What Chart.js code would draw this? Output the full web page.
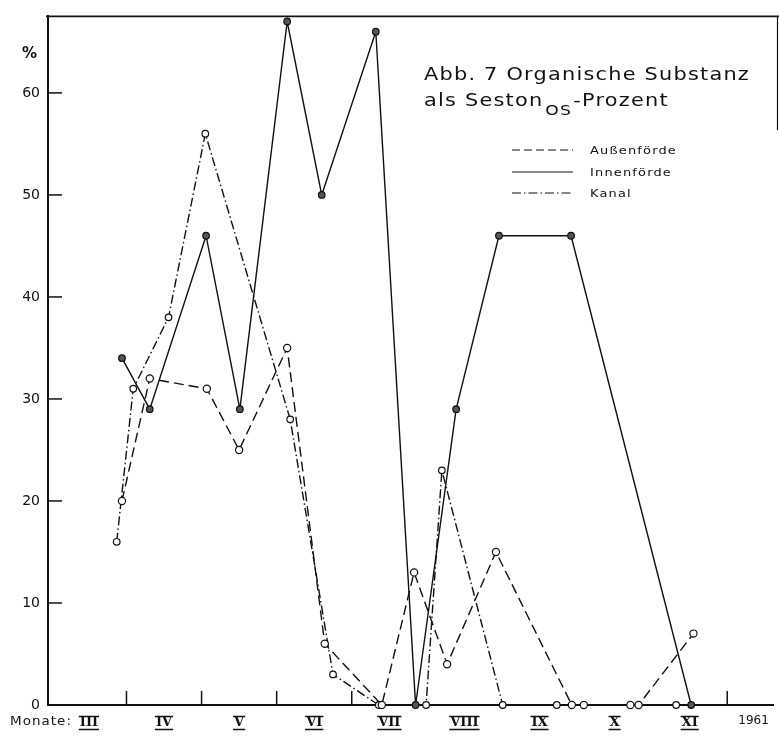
<!DOCTYPE html>
<html>
<head>
<meta charset="utf-8">
<script src="https://cdn.jsdelivr.net/npm/chart.js@4.4.0/dist/chart.umd.min.js"></script>
<style>
  html, body { margin: 0; padding: 0; background: #fff; }
  canvas { display: block; }
</style>
</head>
<body>
<canvas id="chart" width="779" height="741"></canvas>
<script>
// x = month of the year as decimal (4.0 = 1st April), y = percent
var aussenX = [3.94, 4.31, 5.07, 5.50, 6.14, 6.64, 7.40, 7.83, 8.27, 8.92, 9.93, 10.09, 10.71, 10.82, 11.55];
var aussenY = [20, 32, 31, 25, 35, 6, 0, 13, 4, 15, 0, 0, 0, 0, 7];

var innenX = [3.94, 4.31, 5.06, 5.51, 6.14, 6.60, 7.32, 7.85, 8.39, 8.96, 9.92, 11.52];
var innenY = [34, 29, 46, 29, 67, 50, 66, 0, 29, 46, 46, 0];

var kanalX = [3.87, 4.09, 4.56, 5.05, 6.18, 6.75, 7.36, 7.99, 8.20, 9.01, 9.73, 11.32];
var kanalY = [16, 31, 38, 56, 28, 3, 0, 0, 23, 0, 0, 0];

var monthLabels = ['III', 'IV', 'V', 'VI', 'VII', 'VIII', 'IX', 'X', 'XI'];
var monthPos = [3.5, 4.5, 5.5, 6.5, 7.5, 8.5, 9.5, 10.5, 11.5];
var yearLabel = '1961';
var yearPos = 12.35;
var boundaryTicks = [4, 5, 6, 7, 12];
var yTicks = [0, 10, 20, 30, 40, 50, 60];

var ink = '#111';

function pts(xs, ys) {
    return xs.map(function (x, i) { return { x: x, y: ys[i] }; });
}

// draw text stretched horizontally by factor sx, returns drawn width
function wide(c, text, x, y, sx) {
    c.letterSpacing = '1px';
    var w = c.measureText(text).width;
    c.save();
    c.translate(x, y);
    c.scale(sx, 1);
    c.fillText(text, 0, 0);
    c.restore();
    c.letterSpacing = '0px';
    return w * sx;
}
function scaleFor(c, text, width) {
    c.letterSpacing = '1px';
    var w = c.measureText(text).width;
    c.letterSpacing = '0px';
    return width / w;
}

var decor = {
    id: 'decor',
    afterDraw: function (chart) {
        var c = chart.ctx;
        var xs = chart.scales.x, ys = chart.scales.y;
        var area = chart.chartArea;
        c.save();
        c.strokeStyle = ink;
        c.fillStyle = ink;

        // frame: top line + right edge
        c.lineWidth = 1.6;
        c.beginPath();
        c.moveTo(area.left - 2, area.top);
        c.lineTo(779, area.top);
        c.stroke();
        c.lineWidth = 1.2;
        c.beginPath();
        c.moveTo(777.5, area.top);
        c.lineTo(777.5, 130);
        c.stroke();

        // inner y ticks
        c.lineWidth = 1.5;
        yTicks.forEach(function (v) {
            if (v === 0) return;
            var py = ys.getPixelForValue(v);
            c.beginPath();
            c.moveTo(area.left, py);
            c.lineTo(area.left + 14, py);
            c.stroke();
        });

        // month boundary ticks
        boundaryTicks.forEach(function (v) {
            var px = xs.getPixelForValue(v);
            c.beginPath();
            c.moveTo(px, area.bottom);
            c.lineTo(px, area.bottom - 14);
            c.stroke();
        });

        // % label
        c.font = 'bold 15px "DejaVu Sans"';
        c.textAlign = 'left';
        c.textBaseline = 'alphabetic';
        c.fillText('%', 22, 58);

        // x labels
        c.textBaseline = 'middle';
        c.textAlign = 'left';
        c.font = '13px "DejaVu Sans"';
        wide(c, 'Monate:', 10, 722, scaleFor(c, 'Monate:', 62));

        c.font = 'bold 13px "DejaVu Serif"';
        c.textAlign = 'center';
        c.lineWidth = 1.6;
        monthLabels.forEach(function (t, i) {
            var px = xs.getPixelForValue(monthPos[i]);
            c.fillText(t, px, 723);
            var w = c.measureText(t).width + 2;
            c.beginPath();
            c.moveTo(px - w / 2, 716.5);
            c.lineTo(px + w / 2, 716.5);
            c.moveTo(px - w / 2, 729.5);
            c.lineTo(px + w / 2, 729.5);
            c.stroke();
        });
        c.font = '12px "DejaVu Sans"';
        c.fillText(yearLabel, xs.getPixelForValue(yearPos), 721);

        // title
        c.textAlign = 'left';
        c.textBaseline = 'alphabetic';
        c.font = '17px "DejaVu Sans"';
        var s = scaleFor(c, 'Abb. 7 Organische Substanz', 326);
        wide(c, 'Abb. 7 Organische Substanz', 424, 80, s);
        var x2 = 424 + wide(c, 'als Seston', 424, 106, s) + 2;
        c.font = '14px "DejaVu Sans"';
        x2 += wide(c, 'OS', x2, 115, s) + 1;
        c.font = '17px "DejaVu Sans"';
        wide(c, '-Prozent', x2, 106, s);

        // legend
        var legend = [
            { label: 'Außenförde', dash: [8, 4], y: 150 },
            { label: 'Innenförde', dash: [], y: 172 },
            { label: 'Kanal', dash: [9, 3, 1.5, 3], y: 193 }
        ];
        c.font = '11px "DejaVu Sans"';
        c.textBaseline = 'middle';
        c.lineWidth = 1.2;
        var ls = scaleFor(c, 'Außenförde', 87);
        legend.forEach(function (l) {
            c.setLineDash(l.dash);
            c.beginPath();
            c.moveTo(512, l.y);
            c.lineTo(573, l.y);
            c.stroke();
            c.setLineDash([]);
            wide(c, l.label, 590, l.y + 1, ls);
        });
        c.restore();
    }
};

var ctx = document.getElementById('chart').getContext('2d');

var chart = new Chart(ctx, {
    type: 'scatter',
    data: {
        datasets: [
            {
                label: 'Außenförde',
                data: pts(aussenX, aussenY),
                showLine: true,
                borderColor: ink,
                borderWidth: 1.4,
                borderDash: [10, 5],
                pointRadius: 3.6,
                pointBackgroundColor: '#fff',
                pointBorderColor: ink,
                pointBorderWidth: 1.2,
                clip: false
            },
            {
                label: 'Innenförde',
                data: pts(innenX, innenY),
                showLine: true,
                borderColor: ink,
                borderWidth: 1.4,
                pointRadius: 3.3,
                pointBackgroundColor: '#555',
                pointBorderColor: ink,
                pointBorderWidth: 1.2,
                clip: false
            },
            {
                label: 'Kanal',
                data: pts(kanalX, kanalY),
                showLine: true,
                borderColor: ink,
                borderWidth: 1.4,
                borderDash: [9, 3, 1.5, 3],
                pointRadius: 3.3,
                pointBackgroundColor: '#fff',
                pointBorderColor: ink,
                pointBorderWidth: 1.2,
                clip: false
            }
        ]
    },
    options: {
        responsive: false,
        animation: false,
        devicePixelRatio: 1,
        layout: { padding: { top: 14, right: 1, left: 0, bottom: 0 } },
        plugins: {
            legend: { display: false },
            tooltip: { enabled: false }
        },
        scales: {
            x: {
                type: 'linear',
                min: 2.955,
                max: 12.62,
                grid: { display: false, drawTicks: false },
                ticks: { display: false },
                border: { color: ink, width: 2 },
                afterFit: function (s) { s.height = 36; }
            },
            y: {
                type: 'linear',
                min: 0,
                max: 67.5,
                grid: { display: false, drawTicks: false },
                border: { color: ink, width: 2 },
                ticks: {
                    padding: 8,
                    color: ink,
                    font: { family: '"DejaVu Sans"', size: 14 }
                },
                afterBuildTicks: function (s) {
                    s.ticks = yTicks.map(function (v) { return { value: v }; });
                },
                afterFit: function (s) { s.width = 48; }
            }
        }
    },
    plugins: [decor]
});
</script>
</body>
</html>
